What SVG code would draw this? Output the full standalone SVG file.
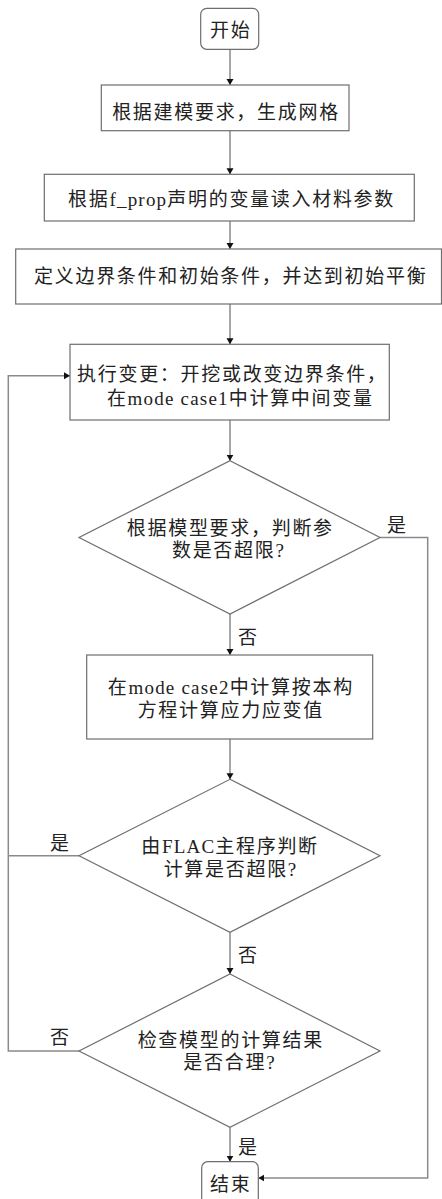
<svg xmlns="http://www.w3.org/2000/svg" width="442" height="1199" viewBox="0 0 442 1199">
<style>
.box{fill:#fff;stroke:#6e6e6e;stroke-width:1.2}
.con{fill:none;stroke:#8a8a8a;stroke-width:1.5}
.t{font-family:"Liberation Serif","Noto Sans CJK SC",serif;font-size:19px;fill:#222;text-anchor:middle;letter-spacing:1.7px}
.lat{font-size:19px;letter-spacing:1.2px}
.l{font-family:"Liberation Serif","Noto Sans CJK SC",serif;font-size:19px;fill:#222}
</style>
<defs>
<marker id="arr" markerUnits="userSpaceOnUse" markerWidth="8" markerHeight="8" refX="6" refY="3.5" orient="auto">
<path d="M0,0 L6,3.5 L0,7 z" fill="#111"/>
</marker>
</defs>
<rect width="442" height="1199" fill="#fff"/>
<g id="connectors">
<line class="con" x1="230" y1="49.3" x2="230" y2="85" marker-end="url(#arr)"/>
<line class="con" x1="230" y1="130.7" x2="230" y2="174.3" marker-end="url(#arr)"/>
<line class="con" x1="230" y1="221" x2="230" y2="249" marker-end="url(#arr)"/>
<line class="con" x1="230" y1="304" x2="230" y2="344.3" marker-end="url(#arr)"/>
<line class="con" x1="230" y1="420" x2="230" y2="460.7" marker-end="url(#arr)"/>
<line class="con" x1="230" y1="614" x2="230" y2="655" marker-end="url(#arr)"/>
<line class="con" x1="230" y1="739" x2="230" y2="779.3" marker-end="url(#arr)"/>
<line class="con" x1="230" y1="932.3" x2="230" y2="974" marker-end="url(#arr)"/>
<line class="con" x1="230" y1="1127.3" x2="230" y2="1161.7" marker-end="url(#arr)"/>
<polyline class="con" points="380,537.5 427.7,537.5 427.7,1178 258.3,1178" marker-end="url(#arr)"/>
<polyline class="con" points="79,855.7 8.3,855.7"/>
<polyline class="con" points="79,1051 8.3,1051 8.3,375.7 70,375.7" marker-end="url(#arr)"/>
<text class="l" x="387" y="532">是</text>
<text class="l" x="238" y="643.5">否</text>
<text class="l" x="50" y="849.5">是</text>
<text class="l" x="238" y="962">否</text>
<text class="l" x="50" y="1043.5">否</text>
<text class="l" x="238" y="1153.5">是</text>
</g>
<g id="start">
<rect class="box" x="200.7" y="8.3" width="58" height="41" rx="6"/>
<text class="t" x="230.8" y="37">开始</text>
</g>
<g id="mesh">
<rect class="box" x="101.3" y="85" width="247.7" height="45.7"/>
<text class="t" x="226" y="118.5">根据建模要求，生成网格</text>
</g>
<g id="props">
<rect class="box" x="44.3" y="174.3" width="370" height="46.7"/>
<text class="t" x="231.5" y="205.5">根据<tspan class="lat" letter-spacing="3px">f_prop</tspan>声明的变量读入材料参数</text>
</g>
<g id="boundary">
<rect class="box" x="15.7" y="249" width="425.8" height="55"/>
<text class="t" x="230.7" y="283">定义边界条件和初始条件，并达到初始平衡</text>
</g>
<g id="change">
<rect class="box" x="70" y="344.3" width="319.3" height="75.7"/>
<text class="t" x="232.3" y="381">执行变更：开挖或改变边界条件，</text>
<text class="t" x="240.3" y="405">在<tspan class="lat">mode case1</tspan>中计算中间变量</text>
</g>
<g id="check1">
<polygon class="box" points="230,460.7 380,537.5 230,614 79,537.5"/>
<text class="t" x="230.3" y="535">根据模型要求，判断参</text>
<text class="t" x="228.8" y="557">数是否超限?</text>
</g>
<g id="calc2">
<rect class="box" x="86.7" y="655" width="286" height="84"/>
<text class="t" x="230.8" y="693.5">在<tspan class="lat">mode case2</tspan>中计算按本构</text>
<text class="t" x="230.8" y="717">方程计算应力应变值</text>
</g>
<g id="check2">
<polygon class="box" points="230,779.3 380,855.7 230,932.3 79,855.7"/>
<text class="t" x="230" y="853">由<tspan class="lat">FLAC</tspan>主程序判断</text>
<text class="t" x="230.8" y="876">计算是否超限?</text>
</g>
<g id="check3">
<polygon class="box" points="230,974 380,1051 230,1127.3 79,1051"/>
<text class="t" x="230.8" y="1047">检查模型的计算结果</text>
<text class="t" x="229.8" y="1068.5">是否合理?</text>
</g>
<g id="end">
<rect class="box" x="201.7" y="1161.7" width="56.6" height="45" rx="6"/>
<text class="t" x="230.8" y="1190.5">结束</text>
</g>
</svg>
